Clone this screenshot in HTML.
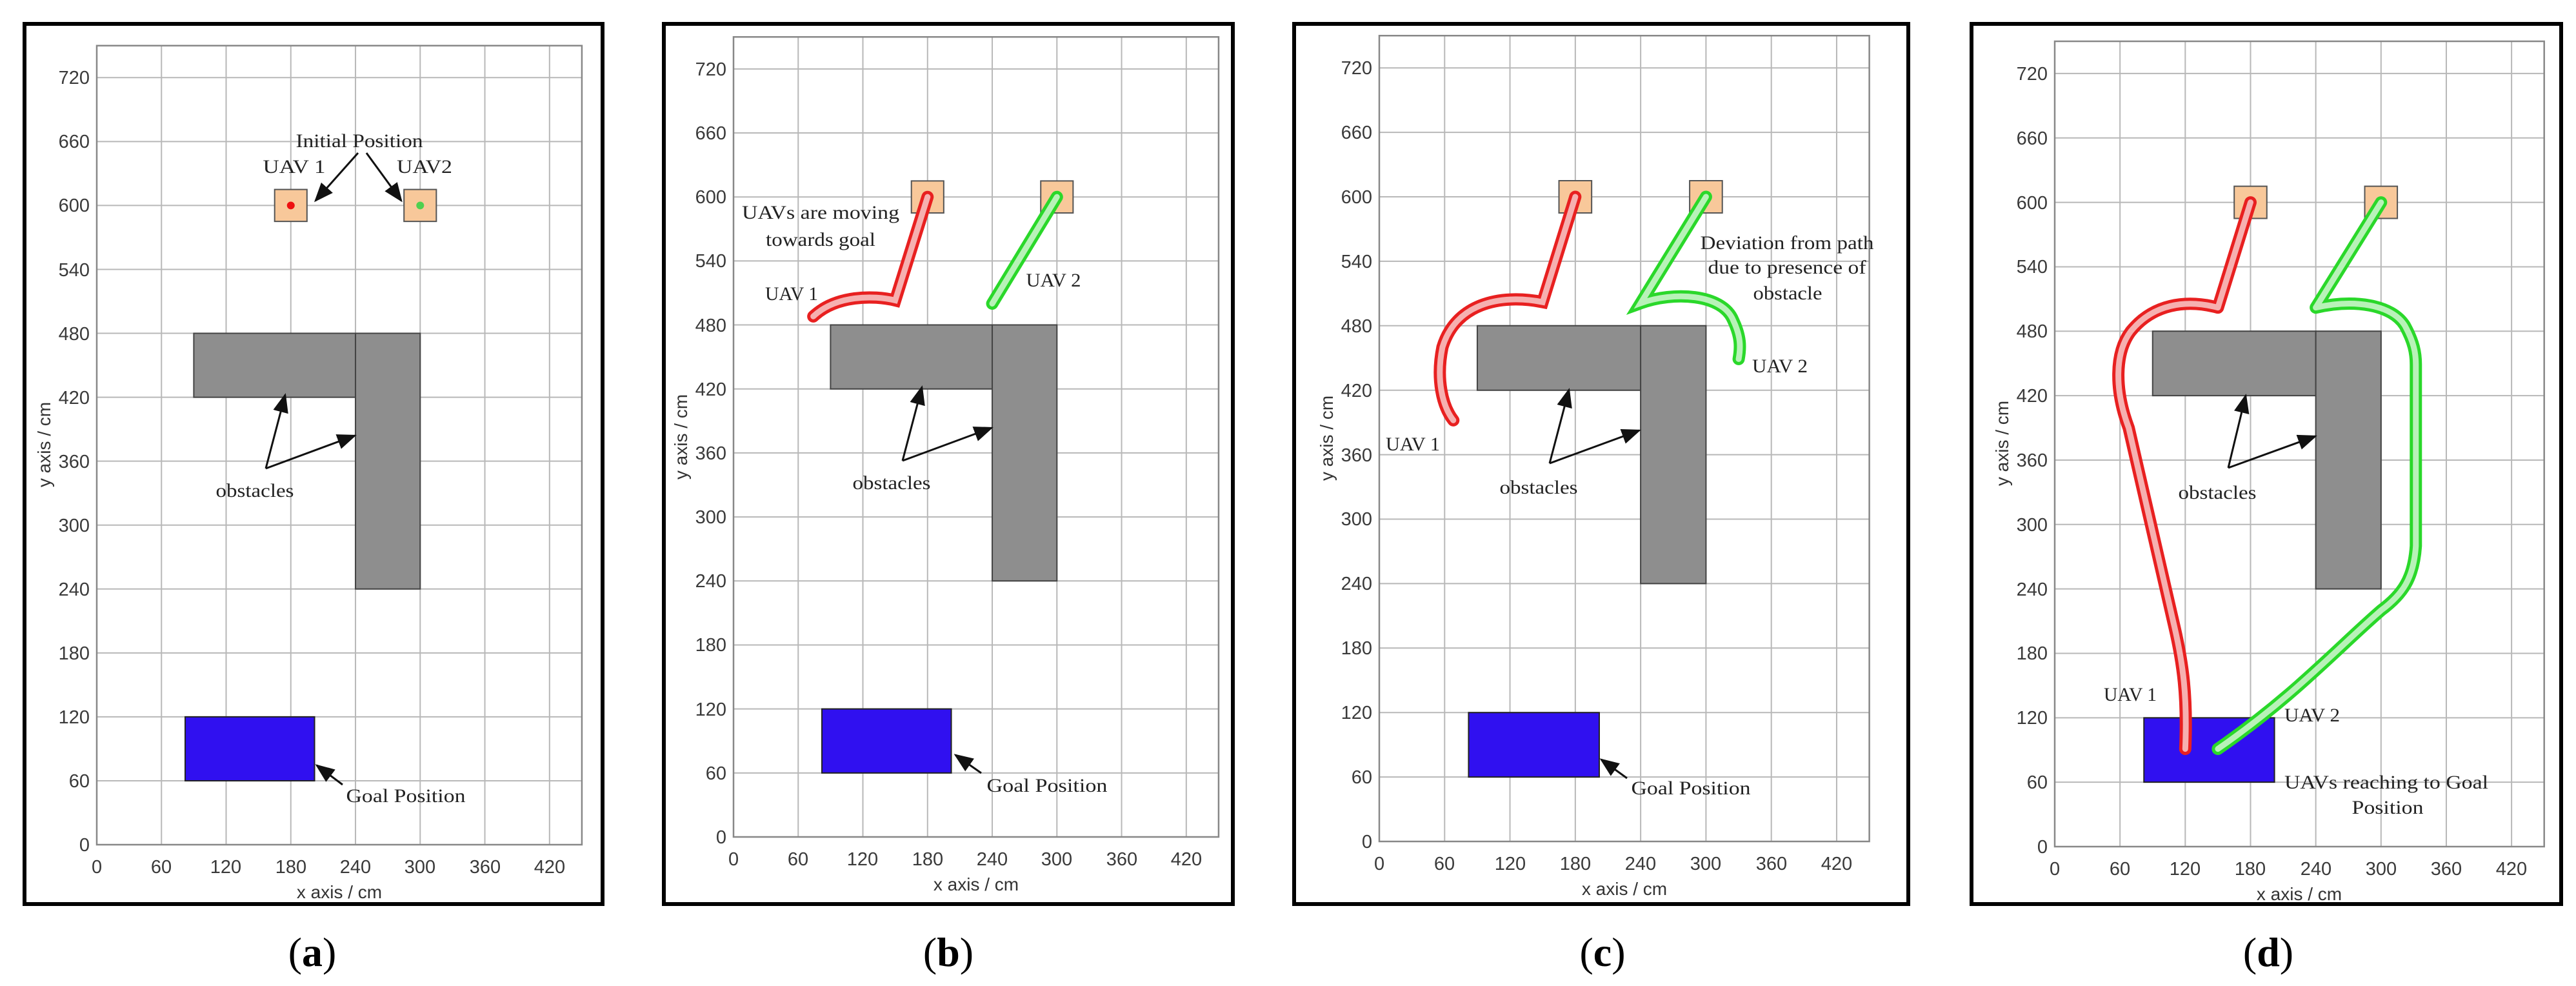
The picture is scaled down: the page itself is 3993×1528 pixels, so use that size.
<!DOCTYPE html>
<html><head><meta charset="utf-8"><style>
html,body{margin:0;padding:0;background:#fff;}
svg{display:block;}
.tk{font-family:"Liberation Sans",sans-serif;font-size:29px;fill:#3a3a3a;}
.ax{font-family:"Liberation Sans",sans-serif;font-size:28px;fill:#333;}
.sf{font-family:"Liberation Serif",serif;font-size:30px;fill:#222;}
.lb{font-family:"Liberation Serif",serif;font-size:64px;fill:#000;}
.ar{stroke:#111;stroke-width:3;fill:none;marker-end:url(#ah);}
.ns{vector-effect:non-scaling-stroke;}
</style></head><body>
<svg width="3993" height="1528" viewBox="0 0 3993 1528" xmlns="http://www.w3.org/2000/svg">
<defs>
<marker id="ah" markerWidth="10" markerHeight="8" refX="9" refY="4" orient="auto" markerUnits="strokeWidth"><path d="M0,0 L10,4 L0,8 Z" fill="#111"/></marker>
</defs>
<rect width="3993" height="1528" fill="#fff"/>

<rect x="38" y="37" width="896" height="1364" fill="none" stroke="#000" stroke-width="6"/>
<rect x="1029" y="37" width="882" height="1364" fill="none" stroke="#000" stroke-width="6"/>
<rect x="2006" y="37" width="952" height="1364" fill="none" stroke="#000" stroke-width="6"/>
<rect x="3056" y="37" width="914" height="1364" fill="none" stroke="#000" stroke-width="6"/>

<text class="lb" x="484" y="1497" text-anchor="middle">(<tspan font-weight="bold">a</tspan>)</text>
<text class="lb" x="1470" y="1497" text-anchor="middle">(<tspan font-weight="bold">b</tspan>)</text>
<text class="lb" x="2484" y="1497" text-anchor="middle">(<tspan font-weight="bold">c</tspan>)</text>
<text class="lb" x="3516" y="1497" text-anchor="middle">(<tspan font-weight="bold">d</tspan>)</text>

<!-- PANEL A -->
<g transform="translate(150,1309)">
 <g transform="scale(1.671,-1.651)">
  <path class="ns" stroke="#b8b8b8" stroke-width="2" d="M60,0V750M120,0V750M180,0V750M240,0V750M300,0V750M360,0V750M420,0V750M0,60H450M0,120H450M0,180H450M0,240H450M0,300H450M0,360H450M0,420H450M0,480H450M0,540H450M0,600H450M0,660H450M0,720H450"/>
  <rect class="ns" x="0" y="0" width="450" height="750" fill="none" stroke="#888" stroke-width="2.5"/>
  <rect class="ns" x="90" y="420" width="150" height="60" fill="#8e8e8e" stroke="#444" stroke-width="2"/>
  <rect class="ns" x="240" y="240" width="60" height="240" fill="#8e8e8e" stroke="#444" stroke-width="2"/>
  <rect class="ns" x="82" y="60" width="120" height="60" fill="#3010f0" stroke="#222" stroke-width="2"/>
  <rect class="ns" x="165" y="585" width="30" height="30" fill="#f8c89a" stroke="#555" stroke-width="2"/>
  <rect class="ns" x="285" y="585" width="30" height="30" fill="#f8c89a" stroke="#555" stroke-width="2"/>
  <ellipse cx="180" cy="600" rx="3.6" ry="3.6" fill="#ee1010"/>
  <ellipse cx="300" cy="600" rx="3.6" ry="3.6" fill="#4fd04f"/>
 </g>
 <g class="tk" text-anchor="end">
  <text x="-11" y="10">0</text><text x="-11" y="-89">60</text><text x="-11" y="-188">120</text><text x="-11" y="-287">180</text><text x="-11" y="-386">240</text><text x="-11" y="-485">300</text><text x="-11" y="-584">360</text><text x="-11" y="-683">420</text><text x="-11" y="-782">480</text><text x="-11" y="-881">540</text><text x="-11" y="-981">600</text><text x="-11" y="-1080">660</text><text x="-11" y="-1179">720</text>
 </g>
 <g class="tk" text-anchor="middle">
  <text x="0" y="44">0</text><text x="100" y="44">60</text><text x="200" y="44">120</text><text x="301" y="44">180</text><text x="401" y="44">240</text><text x="501" y="44">300</text><text x="602" y="44">360</text><text x="702" y="44">420</text>
 </g>
 <text class="ax" x="376" y="83" text-anchor="middle">x axis / cm</text>
 <text class="ax" transform="translate(-72,-620) rotate(-90)" text-anchor="middle">y axis / cm</text>
 <text class="sf" x="407" y="-1081" text-anchor="middle" textLength="197" lengthAdjust="spacingAndGlyphs">Initial Position</text>
 <text class="sf" x="306" y="-1041" text-anchor="middle" textLength="97" lengthAdjust="spacingAndGlyphs">UAV 1</text>
 <text class="sf" x="508" y="-1041" text-anchor="middle" textLength="86" lengthAdjust="spacingAndGlyphs">UAV2</text>
 <line class="ar" x1="405" y1="-1072" x2="339" y2="-998"/>
 <line class="ar" x1="418" y1="-1072" x2="472" y2="-998"/>
 <text class="sf" x="245" y="-539" text-anchor="middle" textLength="121" lengthAdjust="spacingAndGlyphs">obstacles</text>
 <line class="ar" x1="262" y1="-583" x2="292" y2="-697"/>
 <line class="ar" x1="262" y1="-583" x2="400" y2="-634"/>
 <text class="sf" x="479" y="-66" text-anchor="middle" textLength="185" lengthAdjust="spacingAndGlyphs">Goal Position</text>
 <line class="ar" x1="381" y1="-93" x2="341" y2="-123"/>
</g>

<!-- PANEL B -->
<g transform="translate(1137,1297)">
 <g transform="scale(1.671,-1.653)">
  <path class="ns" stroke="#b8b8b8" stroke-width="2" d="M60,0V750M120,0V750M180,0V750M240,0V750M300,0V750M360,0V750M420,0V750M0,60H450M0,120H450M0,180H450M0,240H450M0,300H450M0,360H450M0,420H450M0,480H450M0,540H450M0,600H450M0,660H450M0,720H450"/>
  <rect class="ns" x="0" y="0" width="450" height="750" fill="none" stroke="#888" stroke-width="2.5"/>
  <rect class="ns" x="90" y="420" width="150" height="60" fill="#8e8e8e" stroke="#444" stroke-width="2"/>
  <rect class="ns" x="240" y="240" width="60" height="240" fill="#8e8e8e" stroke="#444" stroke-width="2"/>
  <rect class="ns" x="82" y="60" width="120" height="60" fill="#3010f0" stroke="#222" stroke-width="2"/>
  <rect class="ns" x="165" y="585" width="30" height="30" fill="#f8c89a" stroke="#555" stroke-width="2"/>
  <rect class="ns" x="285" y="585" width="30" height="30" fill="#f8c89a" stroke="#555" stroke-width="2"/>
  <path class="ns" d="M180,600 L150,503 C130,508 95,508 74,488" fill="none" stroke="#e82020" stroke-width="19" stroke-linecap="round"/>
  <path class="ns" d="M180,600 L150,503 C130,508 95,508 74,488" fill="none" stroke="#f6b0b0" stroke-width="9" stroke-linecap="round"/>
  <path class="ns" d="M300,600 L240,500" fill="none" stroke="#2ad82a" stroke-width="19" stroke-linecap="round"/>
  <path class="ns" d="M300,600 L240,500" fill="none" stroke="#b8f2b8" stroke-width="9" stroke-linecap="round"/>
 </g>
 <g class="tk" text-anchor="end">
  <text x="-11" y="10">0</text><text x="-11" y="-89">60</text><text x="-11" y="-188">120</text><text x="-11" y="-288">180</text><text x="-11" y="-387">240</text><text x="-11" y="-486">300</text><text x="-11" y="-585">360</text><text x="-11" y="-684">420</text><text x="-11" y="-783">480</text><text x="-11" y="-883">540</text><text x="-11" y="-982">600</text><text x="-11" y="-1081">660</text><text x="-11" y="-1180">720</text>
 </g>
 <g class="tk" text-anchor="middle">
  <text x="0" y="44">0</text><text x="100" y="44">60</text><text x="200" y="44">120</text><text x="301" y="44">180</text><text x="401" y="44">240</text><text x="501" y="44">300</text><text x="602" y="44">360</text><text x="702" y="44">420</text>
 </g>
 <text class="ax" x="376" y="83" text-anchor="middle">x axis / cm</text>
 <text class="ax" transform="translate(-72,-620) rotate(-90)" text-anchor="middle">y axis / cm</text>
 <text class="sf" x="135" y="-958" text-anchor="middle" textLength="244" lengthAdjust="spacingAndGlyphs">UAVs are moving</text>
 <text class="sf" x="135" y="-916" text-anchor="middle" textLength="170" lengthAdjust="spacingAndGlyphs">towards goal</text>
 <text class="sf" x="90" y="-832" text-anchor="middle" textLength="82" lengthAdjust="spacingAndGlyphs">UAV 1</text>
 <text class="sf" x="496" y="-853" text-anchor="middle" textLength="85" lengthAdjust="spacingAndGlyphs">UAV 2</text>
 <text class="sf" x="245" y="-539" text-anchor="middle" textLength="121" lengthAdjust="spacingAndGlyphs">obstacles</text>
 <line class="ar" x1="262" y1="-583" x2="292" y2="-697"/>
 <line class="ar" x1="262" y1="-583" x2="400" y2="-634"/>
 <text class="sf" x="486" y="-70" text-anchor="middle" textLength="187" lengthAdjust="spacingAndGlyphs">Goal Position</text>
 <line class="ar" x1="384" y1="-99" x2="344" y2="-127"/>
</g>

<!-- PANEL C -->
<g transform="translate(2138,1304)">
 <g transform="scale(1.688,-1.665)">
  <path class="ns" stroke="#b8b8b8" stroke-width="2" d="M60,0V750M120,0V750M180,0V750M240,0V750M300,0V750M360,0V750M420,0V750M0,60H450M0,120H450M0,180H450M0,240H450M0,300H450M0,360H450M0,420H450M0,480H450M0,540H450M0,600H450M0,660H450M0,720H450"/>
  <rect class="ns" x="0" y="0" width="450" height="750" fill="none" stroke="#888" stroke-width="2.5"/>
  <rect class="ns" x="90" y="420" width="150" height="60" fill="#8e8e8e" stroke="#444" stroke-width="2"/>
  <rect class="ns" x="240" y="240" width="60" height="240" fill="#8e8e8e" stroke="#444" stroke-width="2"/>
  <rect class="ns" x="82" y="60" width="120" height="60" fill="#3010f0" stroke="#222" stroke-width="2"/>
  <rect class="ns" x="165" y="585" width="30" height="30" fill="#f8c89a" stroke="#555" stroke-width="2"/>
  <rect class="ns" x="285" y="585" width="30" height="30" fill="#f8c89a" stroke="#555" stroke-width="2"/>
  <path class="ns" d="M180,600 L150,502 C110,510 70,500 58,460 C52,430 58,405 68,392" fill="none" stroke="#e82020" stroke-width="19" stroke-linecap="round"/>
  <path class="ns" d="M180,600 L150,502 C110,510 70,500 58,460 C52,430 58,405 68,392" fill="none" stroke="#f6b0b0" stroke-width="9" stroke-linecap="round"/>
  <path class="ns" d="M300,600 L240,501 C270,512 315,510 325,485 C332,470 332,460 330,449" fill="none" stroke="#2ad82a" stroke-width="19" stroke-linecap="round"/>
  <path class="ns" d="M300,600 L240,501 C270,512 315,510 325,485 C332,470 332,460 330,449" fill="none" stroke="#b8f2b8" stroke-width="9" stroke-linecap="round"/>
 </g>
 <g class="tk" text-anchor="end">
  <text x="-11" y="10">0</text><text x="-11" y="-90">60</text><text x="-11" y="-190">120</text><text x="-11" y="-290">180</text><text x="-11" y="-390">240</text><text x="-11" y="-490">300</text><text x="-11" y="-589">360</text><text x="-11" y="-689">420</text><text x="-11" y="-789">480</text><text x="-11" y="-889">540</text><text x="-11" y="-989">600</text><text x="-11" y="-1089">660</text><text x="-11" y="-1189">720</text>
 </g>
 <g class="tk" text-anchor="middle">
  <text x="0" y="44">0</text><text x="101" y="44">60</text><text x="203" y="44">120</text><text x="304" y="44">180</text><text x="405" y="44">240</text><text x="506" y="44">300</text><text x="608" y="44">360</text><text x="709" y="44">420</text>
 </g>
 <text class="ax" x="380" y="83" text-anchor="middle">x axis / cm</text>
 <text class="ax" transform="translate(-72,-625) rotate(-90)" text-anchor="middle">y axis / cm</text>
 <text class="sf" x="632" y="-918" text-anchor="middle" textLength="269" lengthAdjust="spacingAndGlyphs">Deviation from path</text>
 <text class="sf" x="632" y="-880" text-anchor="middle" textLength="245" lengthAdjust="spacingAndGlyphs">due to presence of</text>
 <text class="sf" x="633" y="-840" text-anchor="middle" textLength="107" lengthAdjust="spacingAndGlyphs">obstacle</text>
 <text class="sf" x="621" y="-727" text-anchor="middle" textLength="86" lengthAdjust="spacingAndGlyphs">UAV 2</text>
 <text class="sf" x="52" y="-606" text-anchor="middle" textLength="84" lengthAdjust="spacingAndGlyphs">UAV 1</text>
 <text class="sf" x="247" y="-539" text-anchor="middle" textLength="121" lengthAdjust="spacingAndGlyphs">obstacles</text>
 <line class="ar" x1="264" y1="-586" x2="294" y2="-700"/>
 <line class="ar" x1="264" y1="-586" x2="403" y2="-637"/>
 <text class="sf" x="483" y="-73" text-anchor="middle" textLength="185" lengthAdjust="spacingAndGlyphs">Goal Position</text>
 <line class="ar" x1="384" y1="-98" x2="344" y2="-127"/>
</g>

<!-- PANEL D -->
<g transform="translate(3185,1312)">
 <g transform="scale(1.686,-1.664)">
  <path class="ns" stroke="#b8b8b8" stroke-width="2" d="M60,0V750M120,0V750M180,0V750M240,0V750M300,0V750M360,0V750M420,0V750M0,60H450M0,120H450M0,180H450M0,240H450M0,300H450M0,360H450M0,420H450M0,480H450M0,540H450M0,600H450M0,660H450M0,720H450"/>
  <rect class="ns" x="0" y="0" width="450" height="750" fill="none" stroke="#888" stroke-width="2.5"/>
  <rect class="ns" x="90" y="420" width="150" height="60" fill="#8e8e8e" stroke="#444" stroke-width="2"/>
  <rect class="ns" x="240" y="240" width="60" height="240" fill="#8e8e8e" stroke="#444" stroke-width="2"/>
  <rect class="ns" x="82" y="60" width="120" height="60" fill="#3010f0" stroke="#222" stroke-width="2"/>
  <rect class="ns" x="165" y="585" width="30" height="30" fill="#f8c89a" stroke="#555" stroke-width="2"/>
  <rect class="ns" x="285" y="585" width="30" height="30" fill="#f8c89a" stroke="#555" stroke-width="2"/>
  <path class="ns" d="M180,600 L150,502 C120,510 90,505 70,480 C55,460 55,425 68,390 L110,205 C118,170 122,140 120,91" fill="none" stroke="#e82020" stroke-width="19" stroke-linecap="round" stroke-linejoin="round"/>
  <path class="ns" d="M180,600 L150,502 C120,510 90,505 70,480 C55,460 55,425 68,390 L110,205 C118,170 122,140 120,91" fill="none" stroke="#f6b0b0" stroke-width="9" stroke-linecap="round" stroke-linejoin="round"/>
  <path class="ns" d="M300,600 L240,502 C275,510 310,505 322,485 C330,470 332,460 332,449 L332,280 C330,250 320,235 300,220 C260,185 220,140 150,91" fill="none" stroke="#2ad82a" stroke-width="19" stroke-linecap="round" stroke-linejoin="round"/>
  <path class="ns" d="M300,600 L240,502 C275,510 310,505 322,485 C330,470 332,460 332,449 L332,280 C330,250 320,235 300,220 C260,185 220,140 150,91" fill="none" stroke="#b8f2b8" stroke-width="9" stroke-linecap="round" stroke-linejoin="round"/>
 </g>
 <g class="tk" text-anchor="end">
  <text x="-11" y="10">0</text><text x="-11" y="-90">60</text><text x="-11" y="-190">120</text><text x="-11" y="-290">180</text><text x="-11" y="-389">240</text><text x="-11" y="-489">300</text><text x="-11" y="-589">360</text><text x="-11" y="-689">420</text><text x="-11" y="-789">480</text><text x="-11" y="-889">540</text><text x="-11" y="-988">600</text><text x="-11" y="-1088">660</text><text x="-11" y="-1188">720</text>
 </g>
 <g class="tk" text-anchor="middle">
  <text x="0" y="44">0</text><text x="101" y="44">60</text><text x="202" y="44">120</text><text x="303" y="44">180</text><text x="405" y="44">240</text><text x="506" y="44">300</text><text x="607" y="44">360</text><text x="708" y="44">420</text>
 </g>
 <text class="ax" x="379" y="83" text-anchor="middle">x axis / cm</text>
 <text class="ax" transform="translate(-72,-625) rotate(-90)" text-anchor="middle">y axis / cm</text>
 <text class="sf" x="117" y="-226" text-anchor="middle" textLength="82" lengthAdjust="spacingAndGlyphs">UAV 1</text>
 <text class="sf" x="399" y="-194" text-anchor="middle" textLength="86" lengthAdjust="spacingAndGlyphs">UAV 2</text>
 <text class="sf" x="514" y="-90" text-anchor="middle" textLength="316" lengthAdjust="spacingAndGlyphs">UAVs reaching to Goal</text>
 <text class="sf" x="516" y="-51" text-anchor="middle" textLength="111" lengthAdjust="spacingAndGlyphs">Position</text>
 <text class="sf" x="252" y="-539" text-anchor="middle" textLength="121" lengthAdjust="spacingAndGlyphs">obstacles</text>
 <line class="ar" x1="269" y1="-587" x2="296" y2="-699"/>
 <line class="ar" x1="269" y1="-587" x2="404" y2="-636"/>
</g>
</svg>
</body></html>
